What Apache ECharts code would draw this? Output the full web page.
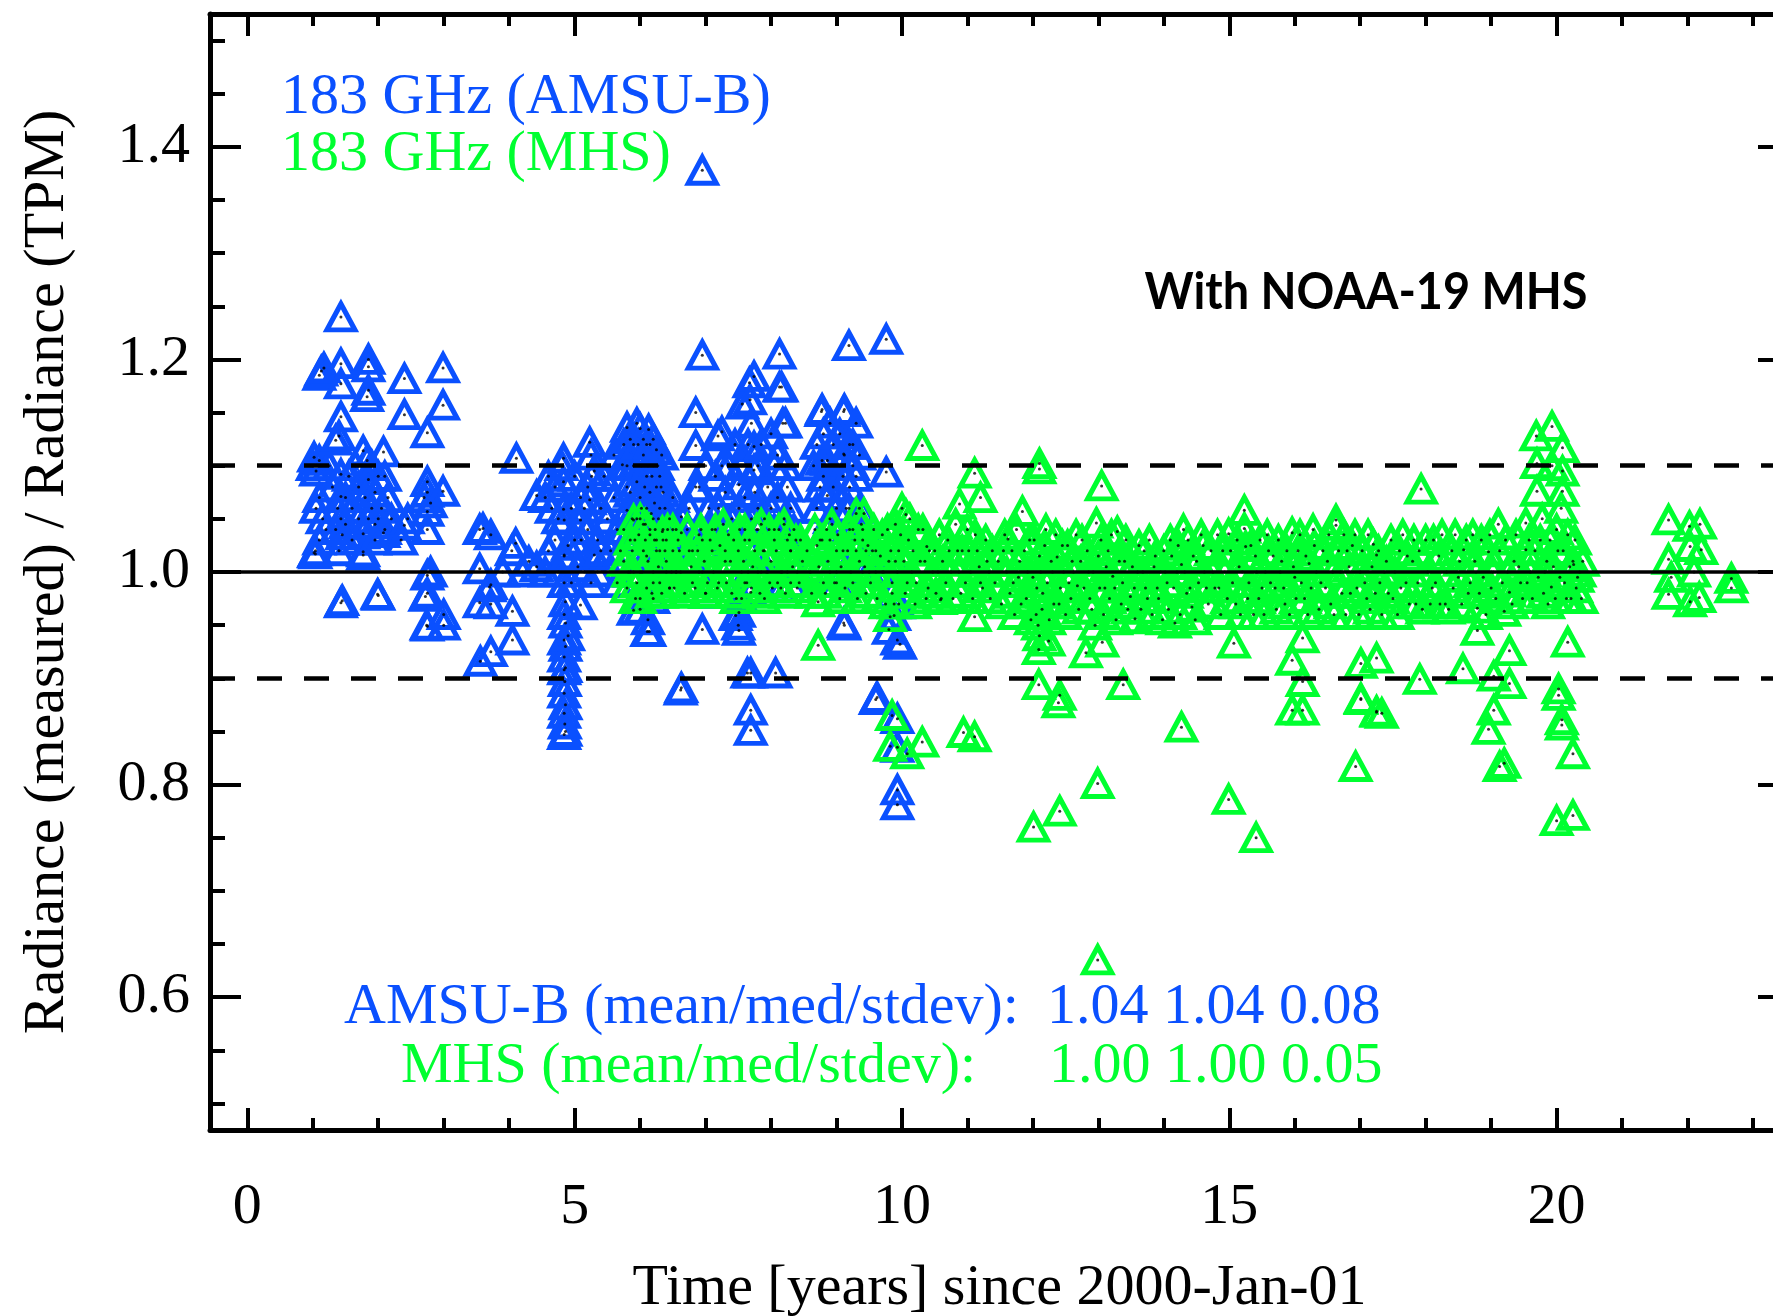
<!DOCTYPE html>
<html><head><meta charset="utf-8">
<script src="https://cdn.jsdelivr.net/npm/echarts@6/dist/echarts.min.js"></script>
<style>html,body{margin:0;padding:0;background:#fff;overflow:hidden;width:1773px;height:1316px}#c{width:1800px;height:1316px}</style>
</head><body><div id="c"></div>
<script>
// ---- data: [years since 2000-Jan-01, radiance ratio measured/TPM] ----
const amsubPoints = [
 [1.0,1.100],[1.02,1.108],[1.05,1.095],[1.1,1.105],[1.04,1.02],[1.02,1.018],[1.04,1.017],[1.1,1.03],
 [1.13,1.189],[1.1,1.185],[1.17,1.192],
 [1.05,1.06],[1.1,1.07],[1.15,1.05],[1.2,1.04],[1.25,1.1],[1.3,1.08],[1.55,1.09],[1.6,1.06],[1.6,1.03],[1.65,1.1],
 [1.7,1.08],[1.7,1.05],[1.9,1.1],[1.95,1.045],[2.0,1.09],[2.1,1.04],[2.15,1.07],[2.2,1.05],
 [1.43,1.240],[1.43,1.196],[1.43,1.177],[1.43,1.146],[1.35,1.124],[1.4,1.128],[1.43,1.092],[1.43,1.071],
 [1.43,1.050],[1.38,1.06],[1.45,1.035],[1.4,1.02],[1.43,0.971],[1.45,0.973],[1.5,1.07],[1.5,1.045],[1.35,1.04],
 [1.85,1.193],[1.85,1.2],[1.85,1.171],[1.83,1.165],[1.77,1.114],[1.83,1.105],[1.85,1.087],[1.8,1.07],[1.9,1.06],
 [1.77,1.036],[1.77,1.016],[1.77,1.019],[1.85,1.05],[1.95,1.075],[2.08,1.113],[2.08,1.037],[2.0,1.05],[2.05,1.06],
 [1.95,1.03],[2.0,0.978],[1.99,0.979],[2.1,1.09],
 [2.40,1.182],[2.40,1.148],[2.40,1.044],[2.45,1.05],[2.35,1.03],[2.99,1.192],[2.99,1.157],[2.75,1.131],[2.75,1.085],
 [2.75,1.075],[2.75,1.057],[2.75,1.040],[2.8,1.065],[2.7,1.07],[2.99,1.076],[2.75,0.997],[2.75,0.980],[2.75,0.949],
 [3.00,0.950],[2.72,0.977],[2.74,0.950],[2.8,1.0],[3.0,0.96],
 [3.55,1.040],[3.72,1.035],[3.6,1.041],[4.10,1.027],[4.04,1.02],[3.55,1.003],[3.72,0.988],[3.55,0.971],[3.72,0.970],
 [4.05,0.963],[4.05,0.936],[3.72,0.925],[3.56,0.916],[4.11,1.107],[4.42,1.072],[4.42,1.005],[4.3,1.01],[4.2,1.0],
 [3.9,1.0],[3.7,0.986],
 [4.83,1.107],[4.83,1.085],[4.84,1.049],[4.83,1.059],[4.9,1.025],[4.84,1.015],[4.84,1.016],[4.7,1.08],[4.65,1.06],
 [4.6,1.02],[4.55,1.0],[4.75,1.0],[5.09,1.049],[5.09,1.07],[5.0,1.09],[5.2,1.04],[5.30,1.016],[5.30,1.095],[5.23,1.122],
 [5.23,1.068],[5.26,1.09],[5.15,1.0],[5.25,0.99],[5.35,1.03],[5.4,1.06],
 [4.55,1.07],[4.6,1.09],[4.7,1.03],[4.75,1.05],[4.8,1.1],[4.95,1.06],[5.0,1.03],[5.05,1.005],[5.1,1.03],[5.15,1.06],
 [5.2,1.08],[5.25,1.11],[5.35,1.0],[5.4,1.02],[5.45,1.09],[5.5,1.05],[5.55,1.02],[5.6,1.07],[5.6,1.11],[5.65,1.04],
 [4.84,0.99],[4.86,0.972],[4.84,0.96],[4.86,0.952],[4.84,0.936],[4.86,0.93],[4.84,0.920],[4.86,0.91],[4.84,0.908],
 [4.85,0.897],[4.84,0.886],[4.86,0.875],[4.84,0.867],[4.85,0.857],[4.84,0.847],[4.86,0.85],[5.09,0.969],[4.95,0.99],[4.9,0.94],
 [5.73,1.101],[5.80,1.136],[5.80,1.080],[5.80,1.058],[5.75,1.04],[5.7,1.02],[5.65,0.99],[5.9,0.964],[5.85,1.0],[5.9,1.12],
 [6.0,1.135],[6.13,1.134],[6.05,1.11],[6.1,1.09],[5.95,1.085],[6.0,1.07],[6.1,1.06],[6.05,1.045],[6.2,1.1],[6.15,1.075],
 [6.25,1.08],[6.2,1.05],[6.3,1.06],[6.25,1.03],[6.3,1.02],[6.1,1.015],[6.0,1.0],[6.2,0.99],[6.35,1.04],[6.4,1.0],[6.5,1.02],
 [6.45,0.985],[6.11,0.944],[6.14,0.944],[6.0,0.965],[6.12,0.955],[6.2,0.975],[6.63,1.052],[6.63,1.037],[5.95,1.14],
 [6.2,1.125],[6.1,1.12],[5.9,1.1],[5.85,1.125],[6.05,1.125],[6.25,1.115],[5.95,1.05],[6.15,1.035],[6.3,1.09],[6.35,1.075],
 [5.75,1.12],[5.8,1.1],[5.85,1.075],[5.88,1.05],[5.92,1.03],[5.97,1.12],[6.02,1.1],[6.02,1.06],[6.07,1.08],[6.08,1.03],
 [6.12,1.1],[6.15,1.12],[6.17,1.055],[6.18,1.09],[6.22,1.065],[6.23,1.04],[6.27,1.1],[6.28,1.05],[6.32,1.08],[6.33,1.11],
 [6.38,1.06],[6.4,1.03],[6.45,1.05],[6.5,1.07],[6.55,1.0],[6.55,1.04],
 [6.62,0.889],[6.63,0.891],[6.85,1.150],[6.85,1.119],[6.85,1.080],[6.95,1.204],[6.95,0.946],[6.95,1.03],[6.9,1.0],[7.0,0.98],
 [7.19,1.128],[7.25,1.132],[7.25,1.100],[7.2,1.06],[7.1,1.04],[7.3,1.02],[7.4,1.05],[7.51,1.082],[7.51,1.060],[7.51,0.945],
 [7.51,0.962],[7.46,0.959],[7.5,0.95],[7.6,1.03],[7.56,1.158],[7.67,1.178],[7.68,1.162],[7.74,1.184],[7.74,1.118],[7.74,1.096],
 [7.75,1.075],[7.7,1.05],[7.8,1.04],[7.85,1.0],[7.69,0.981],[7.69,0.905],[7.64,0.905],[7.69,0.870],[7.69,0.851],[7.9,1.02],
 [8.0,1.06],[7.95,1.08],[8.05,1.1],[8.07,0.905],[8.13,1.205],[8.13,1.174],[8.16,1.174],[8.18,1.14],[8.22,1.140],[8.22,1.100],
 [8.1,1.07],[8.2,1.05],[8.25,1.03],[8.15,1.0],[8.3,1.02],[7.98,0.99],[8.15,0.985],[8.3,0.99],
 [6.75,1.06],[6.8,1.02],[6.9,1.08],[7.0,1.1],[7.05,1.06],[7.15,1.09],[7.3,1.075],[7.35,1.1],[7.45,1.12],[7.55,1.1],
 [7.6,1.07],[7.65,1.12],[7.65,1.0],[7.7,1.14],[7.8,1.1],[7.8,1.06],[7.85,1.12],[7.9,1.05],[7.95,1.0],[8.0,1.13],
 [8.05,1.04],[8.1,1.11],[8.25,1.08],[8.3,1.06],[8.35,1.04],[8.4,1.0],[7.55,0.975],[7.6,0.99],
 [8.77,1.151],[8.78,1.153],[8.78,1.105],[8.86,1.105],[8.86,1.072],[8.8,1.09],[8.7,1.06],[8.9,1.05],[8.75,1.03],[8.9,1.0],
 [9.0,1.02],[9.11,1.151],[9.12,1.153],[9.11,1.111],[9.12,1.11],[9.19,1.213],[9.19,1.060],[9.1,1.09],[9.2,1.08],[9.25,1.04],
 [9.3,1.02],[9.11,0.952],[9.12,0.95],[9.0,0.99],[9.4,1.0],[9.35,1.06],[8.95,1.12],[9.05,1.13],[9.25,1.12],[9.3,1.14],[8.9,1.14],
 [8.65,1.1],[8.7,1.12],[8.75,1.08],[8.8,1.13],[8.85,1.04],[8.95,1.08],[9.0,1.06],[9.05,1.1],[9.15,1.06],[9.2,1.12],
 [9.25,1.1],[9.3,1.09],[9.35,1.11],[9.4,1.04],[9.45,1.02],[9.5,1.0],
 [9.76,1.219],[9.76,1.094],[9.62,0.882],[9.6,0.88],[9.93,0.862],[9.93,0.835],[9.93,0.795],[9.93,0.781],[9.93,0.936],
 [9.8,0.946],[9.88,0.959],[9.97,0.932],[9.85,0.98],[9.95,0.97],[9.7,1.0],[9.6,1.02],[9.9,1.01],
 [6.95,1.378]
];
const mhsPoints = [
 [5.75,1.01],[5.85,1.03],[5.9,1.0],[5.95,0.99],[6.0,1.05],[6.05,1.02],[6.1,0.985],[6.15,1.04],[6.2,1.0],[6.25,1.02],
 [6.3,0.99],[6.35,1.03],[6.4,1.01],[6.45,0.985],[6.5,1.04],[6.55,1.0],[6.6,1.02],[5.8,0.985],[6.0,0.975],[5.9,1.049],[6.34,1.038],
 [5.82,1.0],[5.88,1.02],[5.93,0.975],[5.98,1.035],[6.03,1.0],[6.08,1.045],[6.12,1.01],[6.18,0.98],[6.22,1.03],[6.28,1.005],
 [6.33,0.98],[6.38,1.02],[6.42,1.04],[6.48,1.0],[6.52,0.985],[6.58,1.03],[6.62,1.0],[6.68,0.98],
 [6.75,1.02],[6.8,0.99],[6.9,1.035],[6.95,1.0],[7.0,0.98],[7.1,1.02],[7.15,1.04],[7.2,0.99],[7.3,1.01],[7.35,1.035],
 [7.4,0.98],[7.5,1.02],[7.55,1.0],[7.6,1.04],[7.7,0.985],[7.75,1.02],[7.8,1.0],[7.85,1.045],[7.9,0.975],[8.0,1.01],
 [8.05,1.03],[8.1,0.99],[8.2,1.045],[8.25,1.0],[8.3,1.02],[8.4,0.985],[8.45,1.03],
 [6.72,1.04],[6.78,1.005],[6.84,0.985],[6.88,1.02],[6.93,1.04],[6.98,1.01],[7.03,0.99],[7.07,1.03],[7.12,1.0],[7.18,0.985],
 [7.22,1.025],[7.27,1.045],[7.32,0.99],[7.38,1.01],[7.43,1.03],[7.47,0.975],[7.52,1.04],[7.58,1.01],[7.63,0.99],[7.67,1.03],
 [7.72,1.005],[7.78,1.04],[7.83,0.98],[7.88,1.02],[7.93,1.0],[7.97,1.04],[8.02,0.985],[8.08,1.02],[8.12,1.04],[8.17,1.0],
 [8.22,0.98],[8.28,1.035],[8.33,1.005],[8.38,1.03],[8.43,0.99],[8.48,1.01],
 [8.6,1.0],[8.7,1.025],[8.8,0.99],[8.9,1.03],[9.0,1.0],[9.05,0.975],[9.1,1.02],[9.2,1.04],[9.25,0.99],[9.3,1.055],
 [9.35,1.01],[9.4,1.03],[9.45,0.98],[9.55,1.02],[9.6,1.0],[9.7,1.035],[9.75,0.97],[9.8,1.01],[9.85,0.99],[9.9,1.045],
 [9.95,1.02],[10.0,1.06],[10.05,0.98],[10.1,1.03],[10.15,1.0],[10.2,0.97],[10.25,1.04],[10.35,1.01],[10.4,0.985],
 [10.5,1.02],[10.55,1.0],[10.6,0.975],[10.7,1.03],[10.75,1.0],[10.85,1.02],[10.9,0.98],[11.0,1.04],[11.05,1.0],
 [11.15,1.02],[11.2,0.99],[11.3,1.01],[11.35,0.975],
 [8.55,1.02],[8.62,0.98],[8.67,1.04],[8.73,1.005],[8.78,1.03],[8.83,0.98],[8.87,1.01],[8.93,1.045],[8.97,0.99],[9.02,1.035],
 [9.07,1.005],[9.13,0.985],[9.17,1.02],[9.22,1.0],[9.28,1.03],[9.32,0.975],[9.38,1.045],[9.43,1.005],[9.48,1.025],[9.52,0.99],
 [9.57,1.04],[9.62,0.975],[9.67,1.015],[9.72,1.0],[9.78,1.04],[9.83,1.02],[9.88,0.97],[9.93,1.0],[9.98,1.035],[10.03,1.01],
 [10.08,0.99],[10.12,1.05],[10.17,1.02],[10.22,0.99],[10.28,1.01],[10.32,1.04],[10.37,0.975],[10.42,1.02],[10.47,1.0],
 [10.52,0.98],[10.57,1.035],[10.62,1.01],[10.67,0.99],[10.72,1.02],[10.78,0.975],[10.82,1.045],[10.87,1.0],[10.92,1.02],
 [10.97,0.99],[11.02,1.02],[11.08,0.975],[11.12,1.035],[11.18,1.005],[11.23,0.985],[11.28,1.03],[11.33,1.0],[11.38,1.02],
 [10.31,1.119],[11.11,1.093],[11.2,1.07],[10.88,1.064],[10.06,1.054],[9.42,1.055],[10.38,1.024],[8.72,0.972],[8.72,0.931],
 [11.11,0.958],[9.85,0.865],[9.82,0.836],[10.08,0.829],[10.31,0.84],[10.94,0.849],[11.11,0.845],[10.59,0.974],[9.82,0.958],
 [11.55,1.02],[11.62,1.031],[11.7,0.99],[11.8,1.01],[11.84,1.057],[11.9,0.975],[11.95,1.03],[12.0,0.995],[12.05,0.96],
 [12.1,1.015],[12.1,0.94],[12.15,0.98],[12.2,1.04],[12.25,0.955],[12.3,1.0],[12.37,1.014],[12.4,0.97],[12.45,1.025],
 [11.42,0.99],[11.47,1.01],[11.52,0.97],[11.57,1.035],[11.6,1.0],[11.65,0.98],[11.68,1.02],[11.72,0.96],[11.75,1.04],
 [11.78,0.995],[11.82,0.97],[11.87,1.02],[11.92,1.0],[11.97,0.955],[12.02,1.03],[12.06,0.985],[12.08,0.95],[12.12,1.0],
 [12.14,0.965],[12.18,1.025],[12.22,0.99],[12.24,0.935],[12.28,1.01],[12.32,0.97],[12.35,1.035],[12.42,0.985],[12.47,1.0],[12.5,0.96],
 [12.55,0.99],[12.6,1.01],[12.68,0.987],[12.75,1.03],[12.81,0.924],[12.85,1.0],[12.9,0.965],[12.97,1.046],[13.0,1.015],
 [13.06,0.934],[13.1,0.985],[13.15,1.02],[13.22,0.996],[13.29,1.038],[13.35,0.97],[13.4,1.01],[13.49,0.977],[13.56,0.956],
 [13.6,1.0],[13.7,1.02],[13.75,0.975],[13.85,1.005],[13.9,0.985],[14.0,1.02],
 [12.53,1.025],[12.58,0.975],[12.62,1.0],[12.66,1.035],[12.7,0.965],[12.73,1.01],[12.78,0.985],[12.83,1.02],[12.87,0.975],
 [12.92,1.0],[12.95,0.95],[13.02,0.985],[13.04,1.03],[13.08,0.96],[13.12,1.005],[13.17,0.975],[13.2,1.035],[13.25,0.985],
 [13.27,0.955],[13.32,1.01],[13.37,0.99],[13.42,1.03],[13.45,0.965],[13.52,1.005],[13.55,0.985],[13.62,1.025],[13.65,0.965],
 [13.68,1.0],[13.72,0.985],[13.78,1.03],[13.82,0.96],[13.87,1.015],[13.92,0.975],[13.95,1.0],[13.98,0.955],
 [14.05,0.99],[14.1,1.03],[14.17,0.952],[14.2,1.0],[14.27,1.007],[14.3,1.04],[14.35,0.98],[14.43,0.967],[14.5,1.01],
 [14.6,1.025],[14.65,0.985],[14.75,1.0],[14.84,0.985],[14.9,1.02],[14.99,1.036],[15.07,0.933],[15.1,0.97],[15.15,1.005],
 [15.23,1.058],[15.23,1.041],[15.25,1.024],[15.3,0.99],[15.4,1.015],[15.45,0.975],
 [14.02,1.0],[14.07,0.965],[14.12,1.015],[14.15,0.985],[14.22,1.025],[14.25,0.96],[14.32,1.0],[14.37,1.03],[14.4,0.985],
 [14.45,1.015],[14.48,0.955],[14.53,0.99],[14.57,1.035],[14.62,1.0],[14.68,0.97],[14.72,1.02],[14.78,0.985],[14.82,1.035],
 [14.87,0.96],[14.93,1.0],[14.97,0.975],[15.02,1.02],[15.05,0.99],[15.12,1.03],[15.17,0.96],[15.2,1.0],[15.28,0.975],
 [15.33,1.025],[15.37,0.96],[15.42,1.0],[15.47,1.03],[15.5,0.985],
 [15.55,1.0],[15.6,1.02],[15.7,0.985],[15.8,1.01],[15.85,0.97],[15.96,1.037],[16.0,0.995],[16.05,1.02],[16.12,0.938],
 [16.15,0.975],[16.22,1.008],[16.3,1.025],[16.4,0.99],[16.5,1.01],[16.55,0.97],[16.63,1.049],[16.63,1.044],[16.7,1.0],
 [16.8,1.02],[16.85,0.98],[16.92,1.035],[17.0,1.0],[17.1,0.975],[17.2,1.026],[17.25,1.016],[17.3,0.99],[17.4,1.01],
 [15.53,0.96],[15.58,1.035],[15.63,0.99],[15.67,1.015],[15.72,0.965],[15.75,1.03],[15.78,1.0],[15.83,0.985],[15.88,1.02],
 [15.92,0.96],[15.98,1.005],[16.02,0.975],[16.08,1.035],[16.1,0.99],[16.17,1.015],[16.2,0.96],[16.25,0.985],[16.28,1.04],
 [16.33,1.0],[16.37,0.965],[16.43,1.02],[16.47,0.985],[16.52,1.035],[16.58,1.0],[16.6,0.96],[16.67,1.02],[16.72,0.98],
 [16.75,1.035],[16.78,0.96],[16.83,1.005],[16.88,1.025],[16.95,0.985],[16.98,0.96],[17.03,1.02],[17.07,0.99],[17.12,1.035],
 [17.15,0.965],[17.18,1.005],[17.23,0.98],[17.28,1.02],[17.33,0.96],[17.37,1.0],[17.43,0.98],[17.47,1.03],
 [17.5,0.975],[17.6,1.02],[17.7,0.99],[17.8,1.01],[17.85,0.97],[17.93,1.078],[18.0,1.03],[18.1,0.985],[18.2,1.015],
 [18.3,0.97],[18.4,1.02],[18.5,0.995],[18.58,1.021],[18.65,0.98],[18.75,1.01],[18.79,0.966],[18.85,1.03],[18.96,1.019],
 [19.0,0.985],[19.11,1.045],[19.2,0.963],[19.28,0.981],[19.35,1.01],[19.45,0.99],[19.53,1.046],[19.53,1.021],
 [17.53,1.0],[17.57,0.96],[17.62,0.985],[17.65,1.035],[17.72,1.015],[17.75,0.97],[17.82,1.03],[17.88,0.99],[17.9,1.02],
 [17.95,0.965],[18.03,1.0],[18.07,0.97],[18.12,1.03],[18.15,0.99],[18.22,0.97],[18.25,1.035],[18.32,1.0],[18.35,0.965],
 [18.42,0.985],[18.45,1.035],[18.52,1.01],[18.55,0.97],[18.62,1.03],[18.68,0.99],[18.72,1.035],[18.77,1.0],[18.82,0.98],
 [18.88,0.995],[18.92,0.96],[18.98,1.035],[19.03,1.0],[19.07,0.975],[19.13,1.02],[19.17,0.99],[19.22,1.03],[19.25,1.0],
 [19.32,0.97],[19.38,1.035],[19.42,1.005],[19.48,0.975],
 [19.6,1.0],[19.69,1.128],[19.7,1.102],[19.7,1.076],[19.75,1.03],[19.8,0.98],[19.85,1.01],[19.92,0.986],[19.93,1.137],
 [19.93,1.10],[20.0,1.04],[20.05,0.995],[20.09,1.117],[20.09,1.095],[20.09,1.076],[20.1,1.02],[20.15,0.975],[20.2,1.005],
 [20.26,1.007],[20.3,0.985],[20.35,1.0],
 [19.55,0.99],[19.58,1.03],[19.63,0.975],[19.67,1.02],[19.72,0.995],[19.78,1.05],[19.82,1.0],[19.87,0.97],[19.9,1.03],
 [19.95,1.005],[19.98,0.975],[20.02,1.02],[20.07,1.06],[20.12,0.99],[20.17,1.035],[20.22,0.975],[20.25,1.01],[20.28,1.03],
 [20.32,0.995],[20.38,0.975],[20.4,1.01],
 [20.17,0.934],[19.28,0.926],[18.57,0.909],[17.91,0.899],[19.04,0.902],[19.28,0.895],[20.03,0.884],[20.03,0.89],[19.04,0.87],
 [18.96,0.852],[20.08,0.861],[20.08,0.856],[20.25,0.829],[19.13,0.817],[19.2,0.82],[20.0,0.766],[20.25,0.771],[18.79,0.945],
 [17.33,0.867],[14.27,0.854],[12.99,0.801],[12.41,0.775],[12.01,0.760],[14.99,0.786],[15.41,0.750],[12.99,0.635],
 [15.96,0.870],[16.12,0.870],[16.93,0.817],[17.25,0.869],[17.01,0.88],[12.39,0.877],[12.09,0.927],[12.09,0.894],
 [12.41,0.884],[13.38,0.894],[16.12,0.897],[15.96,0.917],[17.01,0.914],[17.25,0.919],[17.01,0.881],[17.25,0.868],
 [13.05,1.081],[12.10,1.097],[12.10,1.102],
 [21.71,1.049],[22.03,1.043],[22.19,1.045],[22.04,1.024],[22.21,1.021],[21.71,1.012],[22.67,0.994],[21.71,0.979],
 [22.18,0.976],[22.04,0.972],[22.67,0.985],[21.75,0.995],[22.1,1.0]
];
const xMajorTicks = [0, 5, 10, 15, 20];
const xMinorTicks = [0,1,2,3,4,5,6,7,8,9,10,11,12,13,14,15,16,17,18,19,20,21,22,23];
const yMajorTicks = [0.6, 0.8, 1.0, 1.2, 1.4];
const yMinorTicks = [0.5,0.55,0.6,0.65,0.7,0.75,0.8,0.85,0.9,0.95,1.0,1.05,1.1,1.15,1.2,1.25,1.3,1.35,1.4,1.45,1.5];
const refSolid = [1.0];
const refDashed = [1.1, 0.9];
const legendLabels = ['183 GHz (AMSU-B)', '183 GHz (MHS)'];
const statLabels = ['AMSU-B (mean/med/stdev):', 'MHS (mean/med/stdev):'];
const statValues = ['1.04 1.04 0.08', '1.00 1.00 0.05'];
const panelNote = 'With NOAA-19 MHS';
const xTitle = 'Time [years] since 2000-Jan-01';
const yTitle = 'Radiance (measured) / Radiance (TPM)';

// ---- styling ----
const BLUE = '#0a50ff', GREEN = '#00ff30';
const SERIF = '"Liberation Serif", "Times New Roman", serif';
const X_MIN = -0.57, X_MAX = 23.55, Y_MIN = 0.475, Y_MAX = 1.525;

function mkX(pos, ticks, len, major) {
  return {
    type: 'value', position: pos, min: X_MIN, max: X_MAX,
    name: (major && pos === 'bottom') ? xTitle : '',
    nameLocation: 'middle', nameGap: 130,
    nameTextStyle: {fontFamily: SERIF, fontSize: 58, color: '#000'},
    axisLine: {show: major, onZero: false, lineStyle: {color: '#000', width: 5}},
    axisTick: {show: true, inside: true, length: len, customValues: ticks, lineStyle: {color: '#000', width: 4}},
    axisLabel: {show: major && pos === 'bottom', customValues: ticks, margin: 49,
      fontFamily: SERIF, fontSize: 58, color: '#000', formatter: v => String(v)},
    splitLine: {show: false}
  };
}
function mkY(pos, ticks, len, major) {
  return {
    type: 'value', position: pos, min: Y_MIN, max: Y_MAX,
    name: (major && pos === 'left') ? yTitle : '',
    nameLocation: 'middle', nameGap: 133,
    nameTextStyle: {fontFamily: SERIF, fontSize: 58, color: '#000'},
    axisLine: {show: major, onZero: false, lineStyle: {color: '#000', width: 5}},
    axisTick: {show: true, inside: true, length: len, customValues: ticks, lineStyle: {color: '#000', width: 4}},
    axisLabel: {show: major && pos === 'left', customValues: ticks, margin: 20, padding: [16, 0, 0, 0],
      fontFamily: SERIF, fontSize: 58, color: '#000', formatter: v => v.toFixed(1)},
    splitLine: {show: false}
  };
}

const triStyle = c => ({color: 'rgba(0,0,0,0)', borderColor: c, borderWidth: 5, borderJoin: 'miter', opacity: 1});

const markData = refSolid.map(v => ({yAxis: v, lineStyle: {type: 'solid', width: 3.5, color: '#000'}}))
  .concat(refDashed.map(v => ({yAxis: v, lineStyle: {type: [25, 22], width: 4.5, color: '#000'}})));

const chart = echarts.init(document.getElementById('c'), null, {renderer: 'canvas'});
chart.setOption({
  animation: false,
  backgroundColor: '#fff',
  grid: {left: 210, right: 11, top: 14, bottom: 186, containLabel: false, outerBoundsMode: 'none'},
  xAxis: [mkX('bottom', xMajorTicks, 22, true), mkX('top', xMajorTicks, 22, true),
          mkX('bottom', xMinorTicks, 12, false), mkX('top', xMinorTicks, 12, false)],
  yAxis: [mkY('left', yMajorTicks, 31, true), mkY('right', yMajorTicks, 31, true),
          mkY('left', yMinorTicks, 15, false), mkY('right', yMinorTicks, 15, false)],
  series: [
    {type: 'scatter', name: 'AMSU-B', data: amsubPoints, symbol: 'triangle', symbolSize: [28, 26],
     itemStyle: triStyle(BLUE), z: 2, silent: true},
    {type: 'scatter', name: 'MHS', data: mhsPoints, symbol: 'triangle', symbolSize: [28, 26],
     itemStyle: triStyle(GREEN), z: 3, silent: true},
    {type: 'scatter', name: 'centres', data: amsubPoints.concat(mhsPoints), symbol: 'circle', symbolSize: 3,
     itemStyle: {color: '#000'}, z: 4, silent: true,
     markLine: {silent: true, symbol: ['none', 'none'], label: {show: false}, data: markData, z: 5}}
  ],
  graphic: [
    {type: 'text', x: 281, y: 98, style: {text: legendLabels[0], fontFamily: SERIF, fontSize: 58, fill: BLUE, align: 'left', verticalAlign: 'middle'}},
    {type: 'text', x: 281, y: 155, style: {text: legendLabels[1], fontFamily: SERIF, fontSize: 58, fill: GREEN, align: 'left', verticalAlign: 'middle'}},
    {type: 'text', x: 1366, y: 292, scaleX: 0.9, style: {text: panelNote, fontFamily: 'Lato, "Open Sans", sans-serif', fontWeight: 'bold', fontSize: 52, fill: '#000', align: 'center', verticalAlign: 'middle'}},
    {type: 'text', x: 344, y: 1008, style: {text: statLabels[0], fontFamily: SERIF, fontSize: 58, fill: BLUE, align: 'left', verticalAlign: 'middle'}},
    {type: 'text', x: 1047, y: 1008, style: {text: statValues[0], fontFamily: SERIF, fontSize: 58, fill: BLUE, align: 'left', verticalAlign: 'middle'}},
    {type: 'text', x: 401, y: 1067, style: {text: statLabels[1], fontFamily: SERIF, fontSize: 58, fill: GREEN, align: 'left', verticalAlign: 'middle'}},
    {type: 'text', x: 1049, y: 1067, style: {text: statValues[1], fontFamily: SERIF, fontSize: 58, fill: GREEN, align: 'left', verticalAlign: 'middle'}}
  ]
});
</script>
</body></html>
